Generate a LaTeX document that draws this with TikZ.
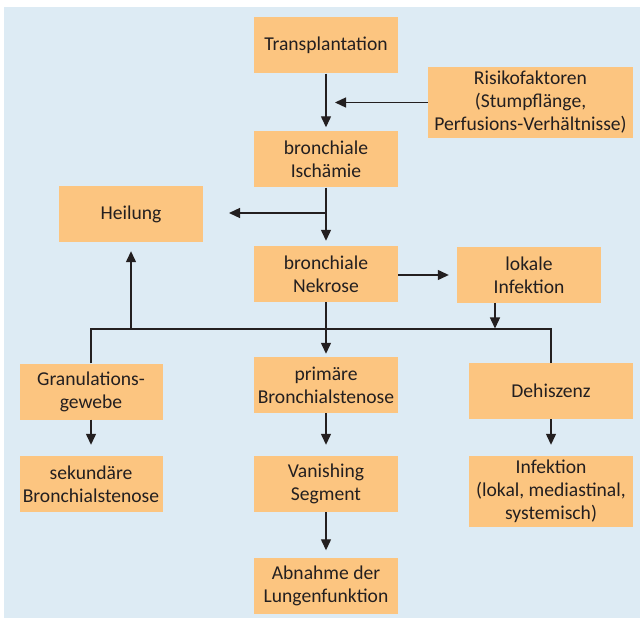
\documentclass[tikz,border=0pt]{standalone}
\usepackage{fontspec}
\setmainfont{Carlito}
\usetikzlibrary{arrows.meta}
\definecolor{bg}{HTML}{DDEBF4}
\definecolor{boxc}{HTML}{FCC580}
\definecolor{ink}{HTML}{231F20}
\begin{document}
\begin{tikzpicture}[x=1pt,y=-1pt,
 box/.style={fill=boxc, draw=none, align=center, inner sep=0pt, text=ink,
   font=\fontsize{19.6}{23}\selectfont, minimum width=144pt, minimum height=56pt},
 wide/.style={box, minimum width=164pt},
 conn/.style={draw=ink, line width=1.3pt},
 arr/.style={conn, -{Triangle[length=11pt,width=10pt]}}]
\useasboundingbox (0,0) rectangle (640,620);
\fill[bg] (4,7) rectangle (640,618);

\node[box] (trans) at (326,45.5) {Transplantation};
\node[box, minimum width=205pt, minimum height=71pt] (risk) at (530.5,102.5) {Risikofaktoren\\(Stumpflänge,\\Perfusions-Verhältnisse)};
\node[box] (isch) at (326,159.5) {bronchiale\\Ischämie};
\node[box] (heil) at (131,214) {Heilung};
\node[box] (nekr) at (326,274) {bronchiale\\Nekrose};
\node[box] (lokal) at (529,275) {lokale\\Infektion};
\node[box, minimum width=143pt] (gran) at (91,391.5) {Granulations-\\gewebe};
\node[box] (prim) at (326,385) {primäre\\Bronchialstenose};
\node[wide] (dehi) at (551,391) {Dehiszenz};
\node[box, minimum width=143pt] (sek) at (91,484) {sekundäre\\Bronchialstenose};
\node[box] (van) at (326,484) {Vanishing\\Segment};
\node[wide, minimum height=71pt] (inf) at (551,491.5) {Infektion\\(lokal, mediastinal,\\systemisch)};
\node[box] (abn) at (326,585.5) {Abnahme der\\Lungenfunktion};

\coordinate (rj) at (335,102.5);
\coordinate (hj) at (326,213);
\coordinate (hend) at (229,213);
\coordinate (lb) at (495,303);
\coordinate (lbe) at (495,328.5);
\coordinate (busL) at (91,329);
\coordinate (busR) at (551,329);

\draw[arr, shorten >=4pt] (trans) -- (isch);
\draw[arr] (risk.west) -- (rj);
\draw[arr, shorten >=5pt] (isch) -- (nekr);
\draw[arr] (hj) -- (hend);
\draw[arr, shorten >=8pt] (nekr.east |- lokal.west) -- (lokal.west);
\draw[arr] (lb) -- (lbe);
\draw[conn] (gran.north) |- (busR) -- (dehi.north);
\draw[arr, shorten >=9pt] (heil.south |- busL) -- (heil.south);
\draw[arr, shorten >=3pt] (nekr) -- (prim);
\draw[arr, shorten >=11pt] (gran) -- (sek);
\draw[arr, shorten >=11pt] (prim) -- (van);
\draw[arr, shorten >=11pt] (dehi) -- (inf);
\draw[arr, shorten >=7pt] (van) -- (abn);
\end{tikzpicture}
\end{document}
